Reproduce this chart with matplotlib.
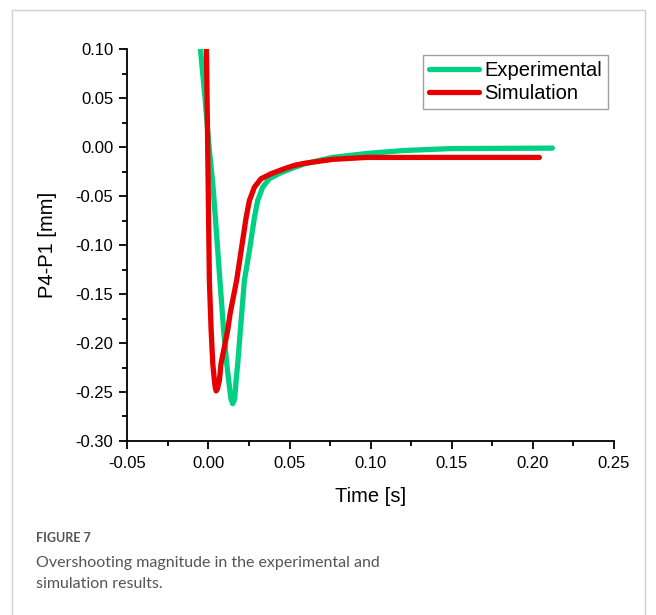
import matplotlib.pyplot as plt
from matplotlib.patches import Rectangle
from matplotlib.ticker import MultipleLocator, FormatStrFormatter

plt.rcParams['font.family'] = ['Liberation Sans', 'DejaVu Sans']

# values
exp_t = [-0.0049, -0.002, 0.0006, 0.0027, 0.0043, 0.0071, 0.0094, 0.0113, 0.0125,
         0.0139, 0.015, 0.0162, 0.0171, 0.0181, 0.0197, 0.0222, 0.0253, 0.0284,
         0.0304, 0.0335, 0.0376, 0.0438, 0.051, 0.0593, 0.0765, 0.0975, 0.12,
         0.149, 0.212]
exp_v = [0.100, 0.049, -0.0033, -0.037, -0.0718, -0.136, -0.187, -0.221, -0.238,
         -0.257, -0.262, -0.257, -0.238, -0.221, -0.187, -0.136, -0.1055, -0.0715,
         -0.0544, -0.0408, -0.0322, -0.0268, -0.022, -0.017, -0.0105, -0.0065, -0.0035,
         -0.0015, -0.001]

sim_t = [-0.0012, -0.0004, 0.0006, 0.0017, 0.0027, 0.0037, 0.0042, 0.0048, 0.0055,
         0.0068, 0.0078, 0.0119, 0.0134, 0.0174, 0.0202, 0.0233, 0.0253, 0.0284,
         0.0325, 0.0387, 0.0469, 0.0531, 0.0593, 0.0765, 0.0975, 0.204]
sim_v = [0.100, -0.0033, -0.136, -0.187, -0.221, -0.238, -0.245, -0.249, -0.247,
         -0.238, -0.221, -0.187, -0.170, -0.136, -0.1055, -0.0715, -0.0544, -0.0408,
         -0.0322, -0.0271, -0.022, -0.0186, -0.0165, -0.0125, -0.0105, -0.0105]

green = '#00D084'
red = '#E60000'

fig = plt.figure(figsize=(6.56, 6.15), dpi=100)
ax = fig.add_axes([0.194, 0.283, 0.742, 0.637])

ax.plot(exp_t, exp_v, color=green, lw=3.8, label='Experimental',
        solid_capstyle='round', solid_joinstyle='round')
ax.plot(sim_t, sim_v, color=red, lw=3.8, label='Simulation',
        solid_capstyle='round', solid_joinstyle='round')

ax.set_xlim(-0.05, 0.25)
ax.set_ylim(-0.30, 0.10)
ax.xaxis.set_major_locator(MultipleLocator(0.05))
ax.xaxis.set_minor_locator(MultipleLocator(0.025))
ax.yaxis.set_major_locator(MultipleLocator(0.05))
ax.yaxis.set_minor_locator(MultipleLocator(0.025))
ax.xaxis.set_major_formatter(FormatStrFormatter('%.2f'))
ax.yaxis.set_major_formatter(FormatStrFormatter('%.2f'))

for side in ['top', 'right']:
    ax.spines[side].set_visible(False)
for side in ['left', 'bottom']:
    ax.spines[side].set_linewidth(1.3)
ax.tick_params(which='major', direction='out', length=6, width=1.3, labelsize=12)
ax.tick_params(axis='x', which='major', pad=5)
ax.tick_params(axis='y', which='major', pad=4)
ax.tick_params(which='minor', direction='out', length=3.5, width=1.3)

ax.set_xlabel('Time [s]', fontsize=14.5, labelpad=11)
ax.set_ylabel('P4-P1 [mm]', fontsize=14.5, labelpad=13)

leg = ax.legend(loc='upper right', bbox_to_anchor=(1.0, 1.0), fontsize=14.5, frameon=True,
                fancybox=False, handlelength=2.5, handletextpad=0.25, borderpad=0.3,
                labelspacing=0.2, borderaxespad=0.3)
leg.get_frame().set_edgecolor('#888888')
leg.get_frame().set_linewidth(1.0)

# outer frame and caption
fig.patches.append(Rectangle((12 / 656, -0.02), 633 / 656, 1 - 10 / 615 + 0.02,
                             transform=fig.transFigure, fill=False,
                             edgecolor='#d0d0d0', lw=1.0))
fig.text(36 / 656, 1 - 538 / 615, 'FIGURE 7', fontsize=9, color='#555555',
         family=['Lato', 'DejaVu Sans'], weight='bold', va='center')
fig.text(36 / 656, 1 - 563 / 615, 'Overshooting magnitude in the experimental and',
         fontsize=11.5, color='#555555', family=['Lato', 'DejaVu Sans'], va='center')
fig.text(36 / 656, 1 - 584 / 615, 'simulation results.',
         fontsize=11.5, color='#555555', family=['Lato', 'DejaVu Sans'], va='center')

fig.savefig('out.png', dpi=100)
